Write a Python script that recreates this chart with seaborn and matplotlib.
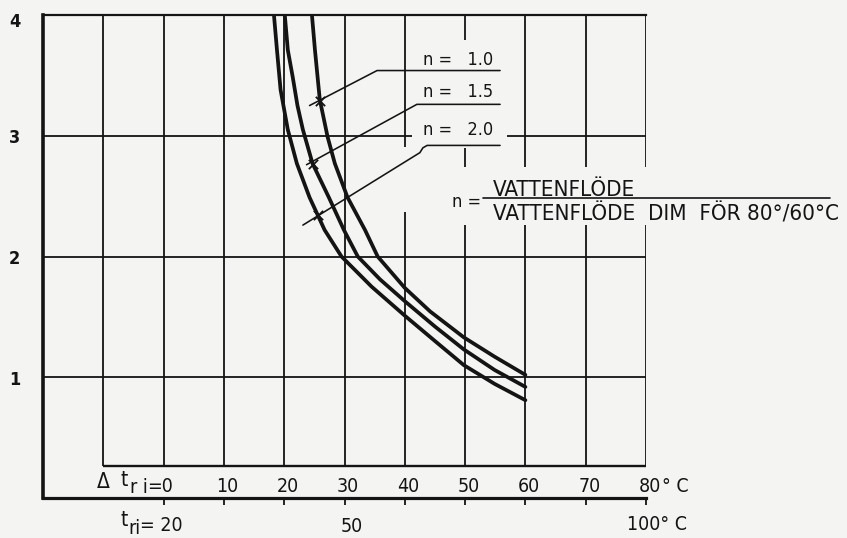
import matplotlib
matplotlib.use("Agg")
import matplotlib.pyplot as plt
from matplotlib.patches import Rectangle
import pandas as pd
import seaborn as sns

# Temperature difference Δt_ri (°C) against the ratio on the y axis,
# one curve per water-flow ratio n
dt_n10 = [24.6, 25.1, 25.9, 27.2, 28.4, 30.5, 33.4, 35.5, 40.0, 44.2, 49.8, 54.9, 60.0]
y_n10 = [4.00, 3.71, 3.30, 2.99, 2.77, 2.49, 2.22, 2.00, 1.74, 1.545, 1.33, 1.17, 1.02]
dt_n15 = [20.1, 20.6, 21.4, 22.2, 23.1, 24.7, 27.4, 29.9, 32.2, 35.9, 40.0, 45.0, 49.8, 54.9, 60.0]
y_n15 = [4.00, 3.71, 3.49, 3.25, 3.05, 2.77, 2.49, 2.22, 2.00, 1.81, 1.63, 1.42, 1.23, 1.06, 0.92]
dt_n20 = [18.3, 18.8, 19.4, 20.6, 22.1, 24.2, 26.7, 29.5, 34.5, 40.0, 45.0, 49.8, 54.9, 60.0]
y_n20 = [4.00, 3.71, 3.38, 3.05, 2.77, 2.49, 2.22, 2.00, 1.75, 1.51, 1.30, 1.10, 0.945, 0.81]

n_labels = ["n =   1.0", "n =   1.5", "n =   2.0"]
# points where each label's leader line crosses its curve
marker_dt = [25.9, 24.7, 25.6]
marker_y = [3.29, 2.77, 2.34]

dt_ticks = [0, 10, 20, 30, 40, 50, 60, 70, 80]
dt_ticklabels = ["0", "10", "20", "30", "40", "50", "60", "70", "80"]
y_ticks = [1, 2, 3, 4]
y_ticklabels = ["1", "2", "3", "4"]

paper = "#f4f4f3"
ink = "#141414"

sns.set_theme(style="white")
plt.rcParams["font.family"] = ["DejaVu Sans"]
plt.rcParams["font.stretch"] = "condensed"

fig = plt.figure(figsize=(8.47, 5.38), dpi=100, facecolor=paper)
ax = fig.add_axes([43 / 847, 40 / 538, 603 / 847, 483 / 538], facecolor=paper)
ax.set_xlim(-20, 80)
ax.set_ylim(0, 4)

base_y = 0.265  # inner baseline carrying the Δt_ri scale

# grid
ax.vlines(range(-10, 81, 10), base_y, 4, color=ink, lw=1.3, zorder=1)
ax.hlines([1, 2, 3], -20, 80, color=ink, lw=1.3, zorder=1)
ax.hlines([base_y], -10, 80, color=ink, lw=1.7, zorder=1)

# paper left clear behind the labels and the n definition
for x0, y0, w, h in [(41.2, 2.90, 15.8, 0.89), (39.0, 2.37, 2.1, 0.54),
                     (47.2, 2.26, 66.0, 0.48)]:
    ax.add_patch(Rectangle((x0, y0), w, h, facecolor=paper, edgecolor="none",
                           zorder=2, clip_on=False))

# curves
df = pd.concat([
    pd.DataFrame({"dt": dt_n10, "ratio": y_n10, "n": "1.0"}),
    pd.DataFrame({"dt": dt_n15, "ratio": y_n15, "n": "1.5"}),
    pd.DataFrame({"dt": dt_n20, "ratio": y_n20, "n": "2.0"}),
])
sns.lineplot(data=df, x="dt", y="ratio", units="n", estimator=None, sort=False,
             color=ink, lw=2.7, ax=ax, zorder=4)

# leader lines and labels
leaders = [
    ([24.2, 35.4, 55.8], [3.25, 3.54, 3.54]),
    ([23.7, 42.0, 55.8], [2.76, 3.26, 3.26]),
    ([23.1, 42.5, 43.0, 43.7, 55.8], [2.26, 2.86, 2.90, 2.92, 2.92]),
]
for (lx, ly) in leaders:
    ax.plot(lx, ly, color=ink, lw=1.15, zorder=5, clip_on=False)
sns.scatterplot(x=marker_dt, y=marker_y, marker="x", s=45, color=ink,
                linewidth=1.3, ax=ax, zorder=6)
for lab, yy in zip(n_labels, [3.627, 3.362, 3.048]):
    ax.text(43.0, yy, lab, fontsize=13, color=ink, ha="left", va="center", zorder=6)

# flow-ratio definition
ax.text(47.8, 2.451, "n =", fontsize=13, color=ink, ha="left", va="center", zorder=6)
ax.plot([53.0, 110.5], [2.484, 2.484], color=ink, lw=1.2, clip_on=False, zorder=6)
ax.text(54.6, 2.497, "VATTENFLÖDE", fontsize=16, color=ink, ha="left",
        va="baseline", zorder=6, clip_on=False)
ax.text(54.6, 2.302, "VATTENFLÖDE  DIM  FÖR 80°/60°C", fontsize=16, color=ink,
        ha="left", va="baseline", zorder=6, clip_on=False)

# spines
ax.spines["right"].set_visible(False)
ax.spines["left"].set_linewidth(2.6)
ax.spines["bottom"].set_linewidth(2.3)
ax.spines["top"].set_linewidth(1.6)
for side in ["left", "bottom", "top"]:
    ax.spines[side].set_color(ink)

# bottom axis ticks (t_ri scale below)
ax.set_xticks(dt_ticks)
ax.set_xticklabels([])
ax.tick_params(axis="x", direction="out", length=5, width=1.3, color=ink, bottom=True)
ax.set_yticks([])
ax.set_xlabel("")
ax.set_ylabel("")

# y scale labels
for yv, lab in zip(y_ticks, y_ticklabels):
    yy = yv - 0.06 if yv == 4 else yv - 0.02
    ax.text(-23.8, yy, lab, fontsize=13, fontweight="bold", color=ink,
            ha="right", va="center", clip_on=False)

# Δt_ri scale on the inner baseline
for xv, lab in zip(dt_ticks, dt_ticklabels):
    if xv == 0:
        ax.text(-10.05, 0.083, "Δ", fontsize=15, color=ink, ha="center", va="baseline")
        ax.text(-7.1, 0.099, "t", fontsize=15, color=ink, ha="left", va="baseline")
        ax.text(-5.6, 0.041, "r i", fontsize=14, color=ink, ha="left", va="baseline")
        ax.text(1.6, 0.050, "=0", fontsize=14, color=ink, ha="right", va="baseline")
    else:
        ax.text(xv + 0.6, 0.052, lab, fontsize=14, color=ink, ha="center", va="baseline")
ax.text(82.6, 0.052, "° C", fontsize=14, color=ink, ha="left",
        va="baseline", clip_on=False)

# t_ri scale under the axis
xt = ax.get_xaxis_transform()
ax.text(-7.2, -0.058, "t", fontsize=15, color=ink, ha="left", va="baseline", transform=xt)
ax.text(-5.9, -0.075, "ri", fontsize=14, color=ink, ha="left", va="baseline", transform=xt)
ax.text(3.2, -0.068, "= 20", fontsize=14, color=ink, ha="right", va="baseline",
        transform=xt)
ax.text(31.2, -0.070, "50", fontsize=14, color=ink, ha="center", va="baseline",
        transform=xt)
ax.text(76.9, -0.066, "100° C", fontsize=14, color=ink, ha="left", va="baseline",
        transform=xt)

fig.savefig("out.png", dpi=100, facecolor=paper)
